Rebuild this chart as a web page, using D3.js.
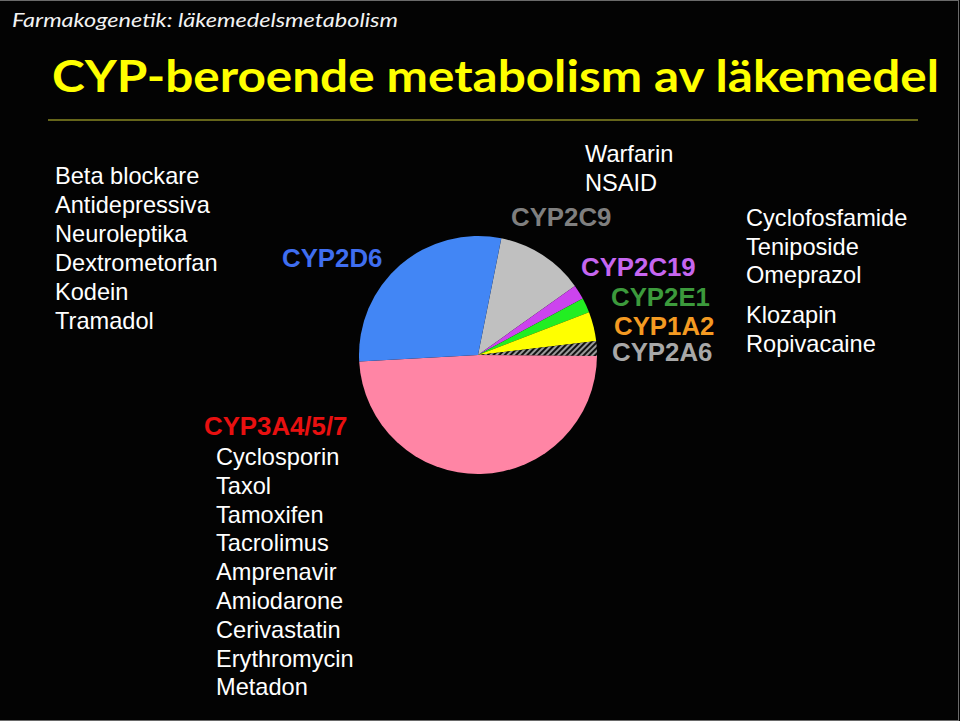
<!DOCTYPE html>
<html>
<head>
<meta charset="utf-8">
<script src="https://cdn.jsdelivr.net/npm/d3@7"></script>
<style>
  html, body { margin: 0; padding: 0; background: #000; }
  svg { display: block; }
</style>
</head>
<body>
<svg id="chart" width="960" height="721"></svg>
<script>
// enzymes, clockwise from the gray slice (shares in %)
const enzymes = ["CYP2C9", "CYP2C19", "CYP2E1", "CYP1A2", "CYP2A6", "CYP3A4/5/7", "CYP2D6"];
const shares = [12, 2, 2, 4, 2, 49, 29];
const sliceColors = ["#c0c0c0", "#cc44ee", "#22ee22", "#ffff00", "url(#hatch)", "#ff85a5", "#4286f5"];

const drugs2D6 = ["Beta blockare", "Antidepressiva", "Neuroleptika", "Dextrometorfan", "Kodein", "Tramadol"];
const drugs2C9 = ["Warfarin", "NSAID"];
const drugs2E1 = ["Cyclofosfamide", "Teniposide", "Omeprazol"];
const drugs1A2 = ["Klozapin", "Ropivacaine"];
const drugs3A4 = ["Cyclosporin", "Taxol", "Tamoxifen", "Tacrolimus", "Amprenavir", "Amiodarone", "Cerivastatin", "Erythromycin", "Metadon"];

const svg = d3.select("#chart");
const W = 960, H = 721;

const defs = svg.append("defs");
const hatch = defs.append("pattern")
    .attr("id", "hatch")
    .attr("patternUnits", "userSpaceOnUse")
    .attr("width", 4)
    .attr("height", 4)
    .attr("patternTransform", "rotate(45)");
hatch.append("rect").attr("width", 4).attr("height", 4).attr("fill", "#111");
hatch.append("rect").attr("width", 2).attr("height", 4).attr("fill", "#9a9a9a");

// background + thin frame
svg.append("rect")
    .attr("width", W).attr("height", H)
    .attr("fill", "#030303");
svg.append("rect")
    .attr("x", -1).attr("y", 0.5)
    .attr("width", W - 0.5).attr("height", H - 1)
    .attr("fill", "none")
    .attr("stroke", "#6a6a6a")
    .attr("stroke-width", 1);

// header
svg.append("text")
    .attr("x", 12).attr("y", 27)
    .attr("font-family", "Lato, 'Open Sans', sans-serif")
    .attr("font-style", "italic")
    .attr("font-size", 20)
    .attr("fill", "#f2f2f2")
    .attr("textLength", 386)
    .attr("lengthAdjust", "spacingAndGlyphs")
    .text("Farmakogenetik: läkemedelsmetabolism");

svg.append("text")
    .attr("x", 52).attr("y", 92)
    .attr("font-family", "Lato, 'Open Sans', sans-serif")
    .attr("font-weight", "bold")
    .attr("font-size", 44)
    .attr("fill", "#ffff00")
    .attr("textLength", 887)
    .attr("lengthAdjust", "spacingAndGlyphs")
    .text("CYP-beroende metabolism av läkemedel");

svg.append("line")
    .attr("x1", 48).attr("x2", 918)
    .attr("y1", 120).attr("y2", 120)
    .attr("stroke", "#c8c832")
    .attr("stroke-width", 1.2);

// pie
const cx = 478, cy = 355, radius = 119;
const start = 11.3 * Math.PI / 180;

const pie = d3.pie()
    .sort(null)
    .value(d => d.value)
    .startAngle(start)
    .endAngle(start + 2 * Math.PI);

const arc = d3.arc().innerRadius(0).outerRadius(radius);

const pieData = enzymes.map((e, i) => ({ name: e, value: shares[i], color: sliceColors[i] }));

svg.append("g")
    .attr("transform", "translate(" + cx + "," + cy + ")")
    .selectAll("path")
    .data(pie(pieData))
    .join("path")
        .attr("d", arc)
        .attr("fill", d => d.data.color);

// labels
const FONT = "'Liberation Sans', Arial, sans-serif";

const addList = function (items, x, y0, step, color) {
    svg.append("g")
        .selectAll("text")
        .data(items)
        .join("text")
            .attr("x", x)
            .attr("y", (d, i) => y0 + i * step)
            .attr("font-family", FONT)
            .attr("font-size", 23.6)
            .attr("fill", color || "#ffffff")
            .text(d => d);
};

const addTag = function (label, x, y, color) {
    svg.append("text")
        .attr("x", x).attr("y", y)
        .attr("font-family", FONT)
        .attr("font-weight", "bold")
        .attr("font-size", 25.8)
        .attr("fill", color)
        .text(label);
};

addList(drugs2D6, 55, 184, 29);
addTag("CYP2D6", 282, 267, "#3f6ef0");

addList(drugs2C9, 585, 162, 29);
addTag("CYP2C9", 511, 226, "#7f7f7f");
addTag("CYP2C19", 581, 276, "#c666f0");
addTag("CYP2E1", 611, 306, "#3c9a3c");
addTag("CYP1A2", 614, 335, "#f49a22");
addTag("CYP2A6", 612, 361, "#a8a8a8");

addList(drugs2E1, 746, 226, 28.7);
addList(drugs1A2, 746, 323, 29);

addTag("CYP3A4/5/7", 204, 435, "#e81010");
addList(drugs3A4, 216, 465, 28.8);
</script>
</body>
</html>
